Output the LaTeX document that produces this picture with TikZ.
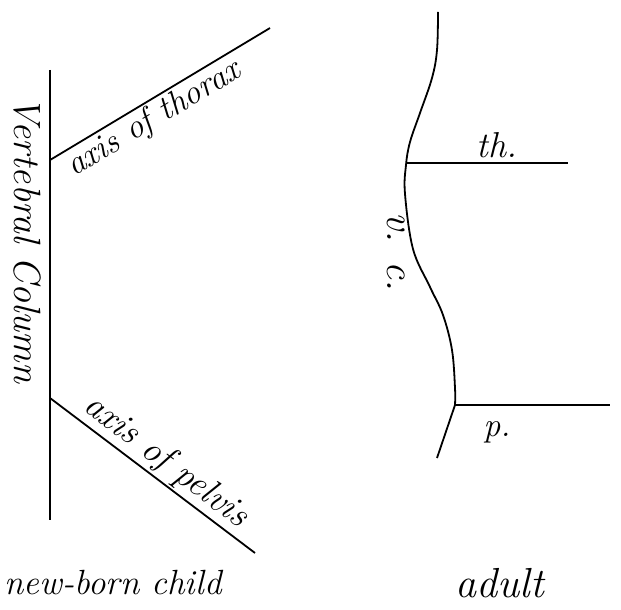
\documentclass[tikz,border=0pt]{standalone}
\begin{document}
\tikzset{
  axisline/.style={line width=1.8pt},
  hand/.style={font=\fontsize{#1}{#1}\selectfont\itshape, inner sep=2pt},
  hand/.default=34
}
\begin{tikzpicture}[x=1pt,y=-1pt]
\useasboundingbox (0,0) rectangle (621,610);
% new-born child: straight column, two axes
\coordinate (top) at (50,70);
\coordinate (bot) at (50,520);
\coordinate (thor) at (50,160);
\coordinate (pelv) at (50,398);
\coordinate (thorend) at (270,28);
\coordinate (pelvend) at (255,553);
\draw[axisline] (top) -- (bot);
\draw[axisline] (thor) -- (thorend) node[hand,pos=0.43,below,sloped] (thorlbl) {axis of thorax};
\draw[axisline] (pelv) -- (pelvend) node[hand=36,pos=0.51,above,sloped] (pelvlbl) {axis of pelvis};
\node[hand=38,rotate=-90] (vcol) at (27,240) {Vertebral Column};
\node[hand=35,inner sep=0pt] (child) at (113,583) {new-born child};
% adult: curved column
\coordinate (athor) at (407,163);
\coordinate (apelv) at (455,405);
\coordinate (athorend) at (568,163);
\coordinate (apelvend) at (610,405);
\draw[axisline] plot[smooth,tension=0.6] coordinates {(438,12) (437,50) (432,78) (420,113) (410,142) (406,165) (405,194) (413,249) (430,287) (443,315) (452,350) (455,388) (455,405)} -- (437,458);
\draw[axisline] (athor) -- (athorend);
\draw[axisline] (apelv) -- (apelvend);
\node[hand=36,anchor=base] (th) at (497,157) {th.};
\node[hand=34] (p) at (497,432) {p.};
\node[hand=40,rotate=-90] (vc) at (396,252) {v. c.};
\node[hand=42,inner sep=0pt] (adult) at (500,583) {adult};
\end{tikzpicture}
\end{document}
